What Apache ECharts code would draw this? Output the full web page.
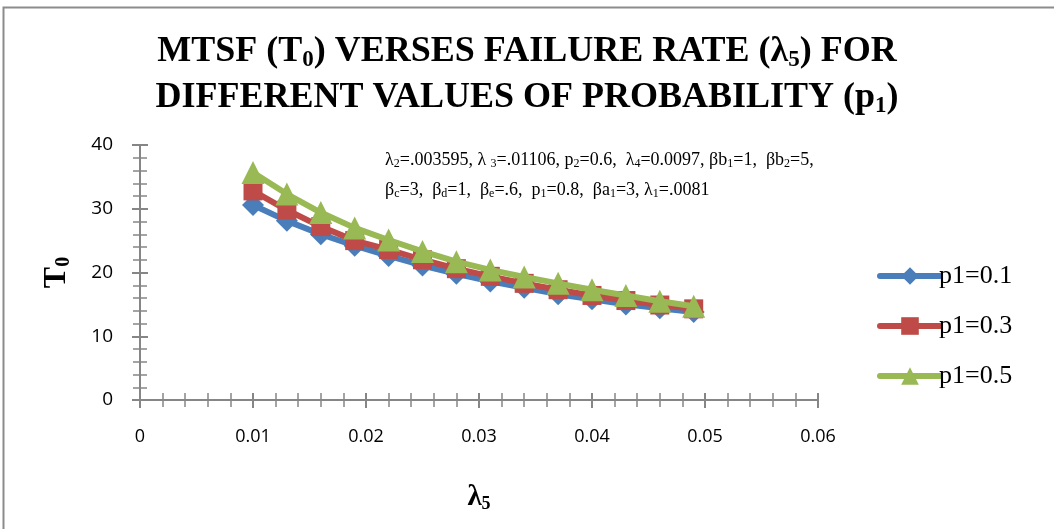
<!DOCTYPE html>
<html>
<head>
<meta charset="utf-8">
<script src="https://cdn.jsdelivr.net/npm/echarts@6/dist/echarts.min.js"></script>
<style>
  html, body { margin: 0; padding: 0; background: #fff; }
  #chart-container { width: 1054px; height: 529px; }
</style>
</head>
<body>
<div id="chart-container"></div>
<script>
// lambda5 values on the x axis
const lambda5 = [0.010, 0.013, 0.016, 0.019, 0.022, 0.025, 0.028, 0.031, 0.034, 0.037, 0.040, 0.043, 0.046, 0.049];
// MTSF for each p1
const p1_01 = [30.6, 28.1, 26.0, 24.2, 22.6, 21.1, 19.8, 18.6, 17.6, 16.6, 15.8, 15.0, 14.4, 13.8];
const p1_03 = [32.8, 29.8, 27.2, 25.0, 23.6, 22.0, 20.6, 19.4, 18.3, 17.3, 16.4, 15.6, 14.9, 14.3];
const p1_05 = [35.7, 32.3, 29.4, 27.0, 25.1, 23.3, 21.7, 20.4, 19.3, 18.3, 17.3, 16.4, 15.5, 14.7];
const seriesNames = ['p1=0.1', 'p1=0.3', 'p1=0.5'];
const seriesColors = ['#4a7ebb', '#be4b48', '#98b954'];
const seriesSymbols = ['diamond', 'rect', 'triangle'];

const chartDom = document.getElementById('chart-container');
const myChart = echarts.init(chartDom);

const serif = '"Liberation Serif", "Times New Roman", serif';
const labelFont = '"Open Sans", "Liberation Sans", sans-serif';
const axisGrey = '#868686';

function pairs(ys) {
    return lambda5.map((x, i) => [x, ys[i]]);
}

const symbolSizes = [22, 19, 23];
const allValues = [p1_01, p1_03, p1_05];
const series = allValues.map((ys, k) => ({
    name: seriesNames[k],
    type: 'line',
    data: pairs(ys),
    symbol: seriesSymbols[k],
    symbolSize: symbolSizes[k],
    lineStyle: { color: seriesColors[k], width: 6 },
    itemStyle: { color: seriesColors[k] },
    z: 2 + k,
    animation: false
}));

// annotation, subscripts in small font
const sub = { fontSize: 12, fontFamily: serif, color: '#000', padding: [8, 0, 0, 0] };

const option = {
    animation: false,
    title: {
        text: 'MTSF (T{s|0}) VERSES FAILURE RATE (λ{s|5}) FOR\nDIFFERENT VALUES OF PROBABILITY (p{s|1})',
        left: 'center',
        top: 24,
        textStyle: {
            fontFamily: serif,
            fontWeight: 'bold',
            fontSize: 36,
            lineHeight: 46,
            color: '#000',
            rich: {
                s: { fontSize: 23, fontWeight: 'bold', fontFamily: serif, padding: [16, 0, 0, 0] }
            }
        }
    },
    legend: {
        orient: 'vertical',
        left: 872,
        top: 258,
        itemWidth: 60,
        itemHeight: 22,
        itemGap: 24,
        lineStyle: { width: 6, cap: 'round' },
        textStyle: { fontFamily: serif, fontSize: 26, color: '#000', padding: [0, 0, 0, -6] },
        data: seriesNames
    },
    grid: { left: 140, right: 236, top: 145, bottom: 129 },
    xAxis: [{
        type: 'value',
        min: 0, max: 0.06, interval: 0.01,
        name: 'λ{s|5}',
        nameLocation: 'middle',
        nameGap: 82,
        nameTextStyle: {
            fontFamily: serif, fontWeight: 'bold', fontSize: 29, color: '#000',
            rich: { s: { fontSize: 18, fontWeight: 'bold', fontFamily: serif, padding: [13, 0, 0, 0] } }
        },
        axisLine: { lineStyle: { color: axisGrey, width: 2 } },
        axisTick: { length: 8, lineStyle: { color: axisGrey, width: 2 } },
        minorTick: { show: true, splitNumber: 5, length: 7, lineStyle: { color: axisGrey, width: 1.5 } },
        splitLine: { show: false },
        axisLabel: { fontFamily: labelFont, fontSize: 18, color: '#000', margin: 28 }
    }, {
        type: 'value',
        min: 0, max: 0.06, interval: 0.01,
        position: 'bottom',
        axisLine: { show: false },
        axisTick: { inside: true, length: 7, lineStyle: { color: axisGrey, width: 2 } },
        minorTick: { show: true, splitNumber: 5, length: 7, lineStyle: { color: axisGrey, width: 1.5 } },
        splitLine: { show: false },
        axisLabel: { show: false }
    }],
    yAxis: [{
        type: 'value',
        min: 0, max: 40, interval: 10,
        name: 'T{s|0}',
        nameLocation: 'middle',
        nameGap: 66,
        nameRotate: 90,
        nameTextStyle: {
            fontFamily: serif, fontWeight: 'bold', fontSize: 32, color: '#000',
            rich: { s: { fontSize: 20, fontWeight: 'bold', fontFamily: serif, padding: [15, 0, 0, 0] } }
        },
        axisLine: { show: true, lineStyle: { color: axisGrey, width: 2 } },
        axisTick: { show: true, length: 8, lineStyle: { color: axisGrey, width: 2 } },
        minorTick: { show: true, splitNumber: 5, length: 7, lineStyle: { color: axisGrey, width: 1.5 } },
        splitLine: { show: false },
        axisLabel: { fontFamily: labelFont, fontSize: 19, color: '#000', margin: 27 }
    }, {
        type: 'value',
        min: 0, max: 40, interval: 10,
        position: 'left',
        axisLine: { show: false },
        axisTick: { show: true, inside: true, length: 8, lineStyle: { color: axisGrey, width: 2 } },
        minorTick: { show: true, splitNumber: 5, length: 7, lineStyle: { color: axisGrey, width: 1.5 } },
        splitLine: { show: false },
        axisLabel: { show: false }
    }],
    graphic: [
        {
            type: 'rect',
            shape: { x: 3.5, y: 7.5, width: 1100, height: 600 },
            style: { fill: 'none', stroke: '#8c8c8c', lineWidth: 2 },
            silent: true
        },
        {
            type: 'text',
            left: 385,
            top: 145,
            style: {
                text: 'λ{s|2}=.003595, λ {s|3}=.01106, p{s|2}=0.6,  λ{s|4}=0.0097, βb{s|1}=1,  βb{s|2}=5,\n' +
                      'β{s|c}=3,  β{s|d}=1,  β{s|e}=.6,  p{s|1}=0.8,  βa{s|1}=3, λ{s|1}=.0081',
                font: '18px ' + serif,
                fill: '#000',
                lineHeight: 30,
                rich: { s: sub }
            }
        }
    ],
    series: series
};

myChart.setOption(option);
</script>
</body>
</html>
